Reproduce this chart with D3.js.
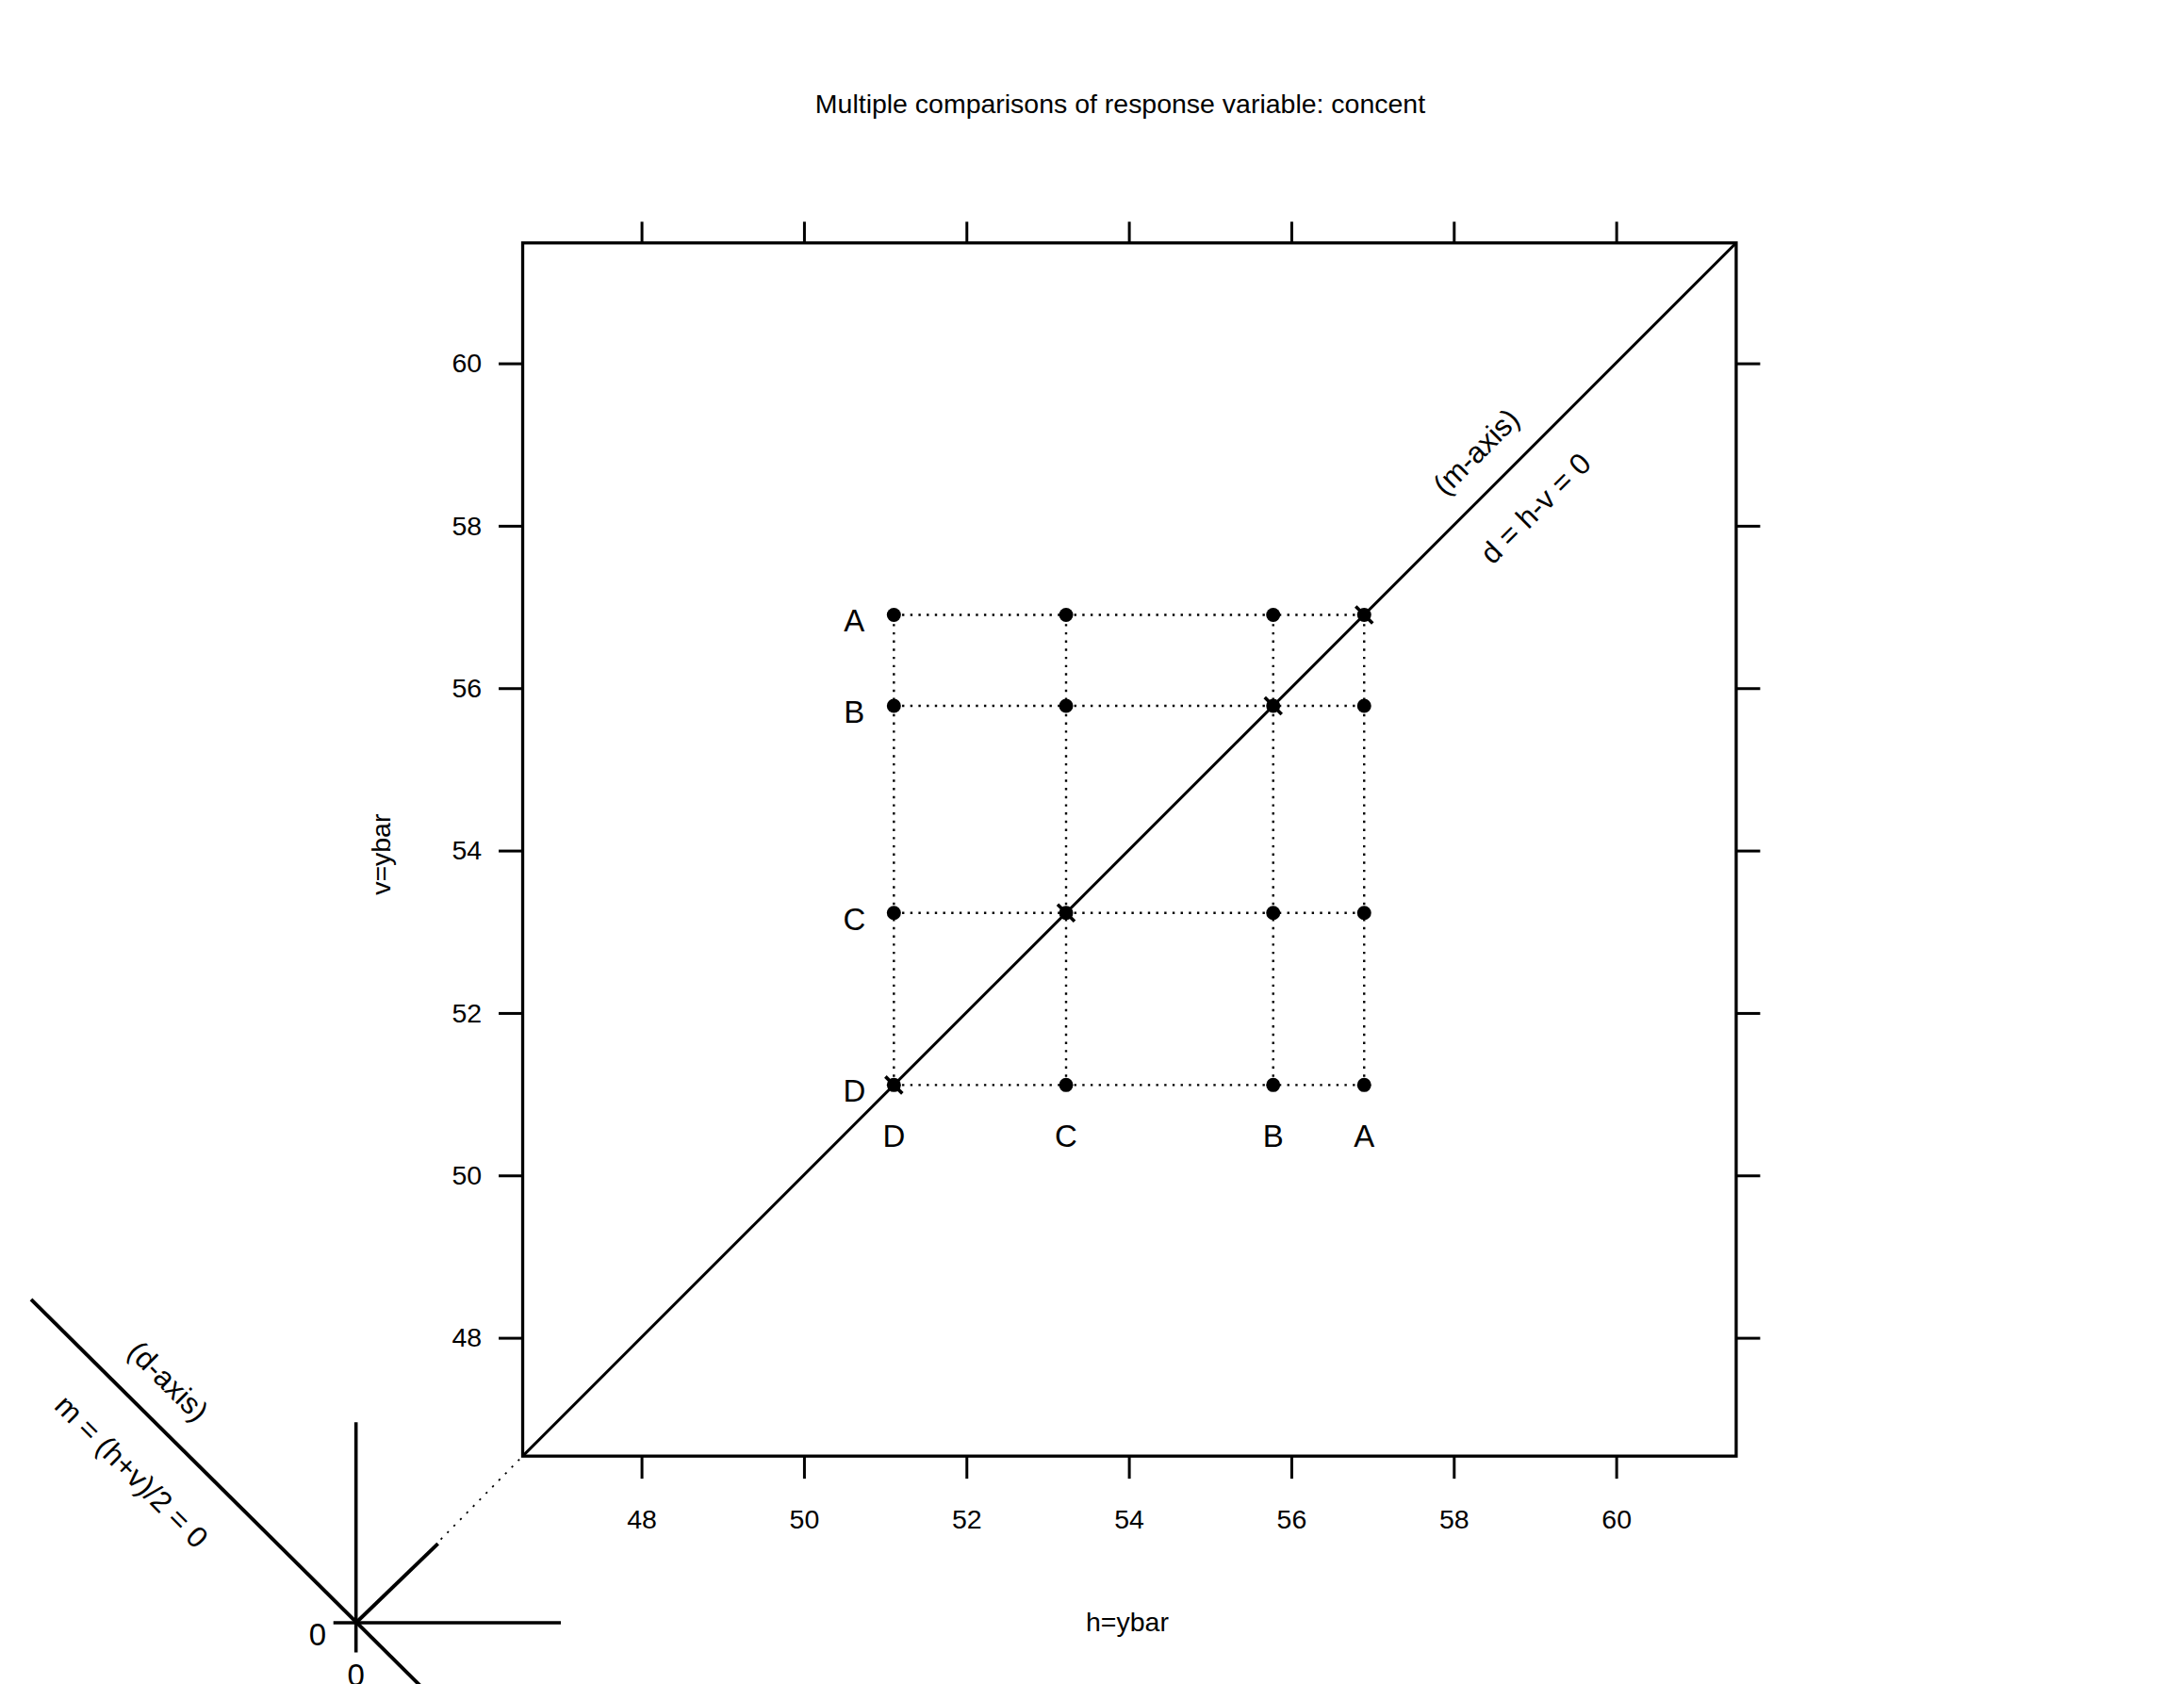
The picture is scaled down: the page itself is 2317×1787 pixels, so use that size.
<!DOCTYPE html>
<html><head><meta charset="utf-8">
<script src="https://cdn.jsdelivr.net/npm/d3@7"></script>
<style>body{margin:0;background:#fff}text{font-family:"Liberation Sans",Arial,sans-serif;fill:#000}</style>
</head><body><div class="canvas"></div>
<script>
// group means
const groups = ['A', 'B', 'C', 'D'];
const means = [56.90, 55.78, 53.23, 51.11];
const ticks = [48, 50, 52, 54, 56, 58, 60];
const domain = [46.54, 61.48];

const k = 2317 / 1546;
const svg = d3.select('.canvas').append('svg')
    .attr('width', 2317).attr('height', 1787);
const root = svg.append('g').attr('transform', `scale(${k})`);

const plotLeft = 370, plotTop = 172, size = 859;
const x = d3.scaleLinear().domain(domain).range([plotLeft, plotLeft + size]);
const y = d3.scaleLinear().domain(domain).range([plotTop + size, plotTop]);

root.append('text').attr('x', 793).attr('y', 80).attr('text-anchor', 'middle')
    .attr('font-size', 19).text('Multiple comparisons of response variable: concent');

// axes
const axisStyle = g => {
    g.select('.domain').remove();
    g.selectAll('line').attr('stroke-width', 2);
    g.selectAll('text').attr('font-size', 19);
};
root.append('g').attr('transform', `translate(0,${plotTop + size})`)
    .call(d3.axisBottom(x).tickValues(ticks).tickSize(16).tickPadding(22)).call(axisStyle);
root.append('g').attr('transform', `translate(0,${plotTop})`)
    .call(d3.axisTop(x).tickValues(ticks).tickSize(15).tickFormat('')).call(axisStyle);
root.append('g').attr('transform', `translate(${plotLeft},0)`)
    .call(d3.axisLeft(y).tickValues(ticks).tickSize(17).tickPadding(12)).call(axisStyle);
root.append('g').attr('transform', `translate(${plotLeft + size},0)`)
    .call(d3.axisRight(y).tickValues(ticks).tickSize(17).tickFormat('')).call(axisStyle);

root.append('rect').attr('x', plotLeft).attr('y', plotTop).attr('width', size).attr('height', size)
    .attr('fill', 'none').attr('stroke', '#000').attr('stroke-width', 2.2);

root.append('text').attr('x', 798).attr('y', 1155).attr('text-anchor', 'middle')
    .attr('font-size', 19).text('h=ybar');
root.append('text').attr('transform', 'translate(276,605) rotate(-90)').attr('text-anchor', 'middle')
    .attr('font-size', 19).text('v=ybar');

// diagonal d = 0
root.append('line').attr('x1', x(domain[0])).attr('y1', y(domain[0]))
    .attr('x2', x(domain[1])).attr('y2', y(domain[1]))
    .attr('stroke', '#000').attr('stroke-width', 2);

const lo = d3.min(means), hi = d3.max(means);
const dotted = sel => sel.attr('stroke', '#000').attr('stroke-width', 1.6).attr('stroke-dasharray', '1.6,4.2');
means.forEach(m => {
    root.append('line').attr('x1', x(lo)).attr('x2', x(hi)).attr('y1', y(m)).attr('y2', y(m)).call(dotted);
    root.append('line').attr('x1', x(m)).attr('x2', x(m)).attr('y1', y(lo)).attr('y2', y(hi)).call(dotted);
});
means.forEach(h => means.forEach(v => {
    root.append('circle').attr('cx', x(h)).attr('cy', y(v)).attr('r', 5).attr('fill', '#000');
}));
means.forEach(m => {
    root.append('path').attr('d', `M${x(m) - 6},${y(m) - 6}L${x(m) + 6},${y(m) + 6}`)
        .attr('stroke', '#000').attr('stroke-width', 2.4);
});
groups.forEach((g, i) => {
    root.append('text').attr('x', x(lo) - 28).attr('y', y(means[i]) + 12).attr('text-anchor', 'middle')
        .attr('font-size', 22).text(g);
    root.append('text').attr('x', x(means[i])).attr('y', y(lo) + 44).attr('text-anchor', 'middle')
        .attr('font-size', 22).text(g);
});

root.append('text').attr('transform', 'translate(1050,325) rotate(-45)').attr('text-anchor', 'middle')
    .attr('font-size', 21).text('(m-axis)');
root.append('text').attr('transform', 'translate(1092,365) rotate(-45)').attr('text-anchor', 'middle')
    .attr('font-size', 21).text('d = h-v = 0');

// origin axes, lower left
const o = [252, 1149];
const ln = (x1, y1, x2, y2, w, dash) => root.append('line').attr('x1', x1).attr('y1', y1)
    .attr('x2', x2).attr('y2', y2).attr('stroke', '#000').attr('stroke-width', w)
    .attr('stroke-dasharray', dash || null);
ln(22, 920, 313, 1209, 2.6);
ln(o[0], 1007, o[0], 1170, 2.4);
ln(236, o[1], 397, o[1], 2.4);
ln(o[0], o[1], 310, 1093, 2.6);
ln(312, 1090, x(domain[0]), y(domain[0]), 1.2, '1.5,5');
root.append('text').attr('x', 231).attr('y', 1165).attr('text-anchor', 'end').attr('font-size', 22).text('0');
root.append('text').attr('x', o[0]).attr('y', 1194).attr('text-anchor', 'middle').attr('font-size', 22).text('0');
root.append('text').attr('transform', 'translate(114,983) rotate(45)').attr('text-anchor', 'middle')
    .attr('font-size', 21).text('(d-axis)');
root.append('text').attr('transform', 'translate(88,1047) rotate(45)').attr('text-anchor', 'middle')
    .attr('font-size', 21).text('m = (h+v)/2 = 0');
</script>
</body></html>
